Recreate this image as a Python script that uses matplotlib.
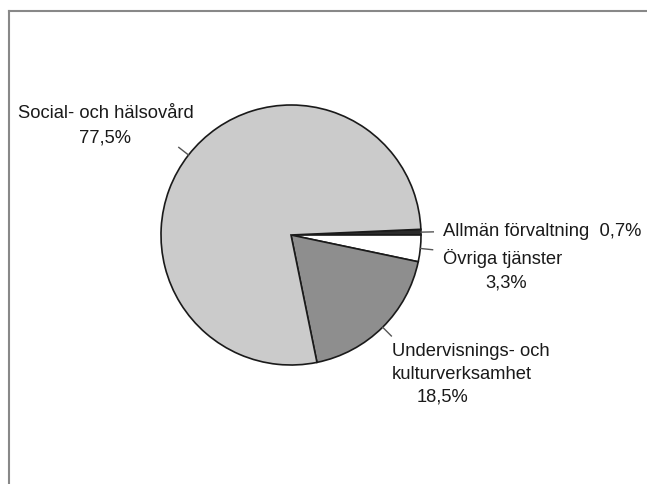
import matplotlib
matplotlib.use("Agg")
import matplotlib.pyplot as plt
from matplotlib.lines import Line2D
import numpy as np

categories = ["Allmän förvaltning", "Övriga tjänster", "Undervisnings- och\nkulturverksamhet", "Social- och hälsovård"]
values = [0.7, 3.3, 18.5, 77.5]
value_labels = ["0,7%", "3,3%", "18,5%", "77,5%"]
colors = ["#2b2b2b", "#ffffff", "#8e8e8e", "#cbcbcb"]

plt.rcParams['font.family'] = ['Liberation Sans', 'DejaVu Sans']

W, H = 647, 485
fig = plt.figure(figsize=(W/100, H/100), dpi=100)

cx, cy, r = 291, 236, 130
ax = fig.add_axes([(cx - r)/W, (H - cy - r)/H, 2*r/W, 2*r/H])
wedges, _ = ax.pie(values, colors=colors, startangle=360*values[0]/100, counterclock=False,
                   wedgeprops=dict(edgecolor="#1a1a1a", linewidth=1.2))
ax.set_xlim(-1, 1)
ax.set_ylim(-1, 1)
ax.set_aspect('equal')
ax.axis('off')

# leader lines radially from wedge midpoints
for w in wedges:
    mid = np.deg2rad((w.theta1 + w.theta2) / 2)
    ax.add_line(Line2D([np.cos(mid), 1.095*np.cos(mid)], [np.sin(mid), 1.095*np.sin(mid)],
                       color="#555555", lw=1.0, clip_on=False))

def px(x, y):
    return ((x - cx)/r, (cy - y)/r)

fs = 13.2
c = "#1a1a1a"
ax.text(*px(443, 231), categories[0] + "  " + value_labels[0], ha='left', va='center', fontsize=fs, color=c, clip_on=False)
ax.text(*px(443, 259), categories[1], ha='left', va='center', fontsize=fs, color=c, clip_on=False)
ax.text(*px(506, 283), value_labels[1], ha='center', va='center', fontsize=fs, color=c, clip_on=False)
ax.text(*px(392, 363), categories[2], ha='left', va='center', fontsize=fs, color=c, clip_on=False, linespacing=1.4)
ax.text(*px(443, 397), value_labels[2], ha='center', va='center', fontsize=fs, color=c, clip_on=False)
ax.text(*px(106, 113), categories[3], ha='center', va='center', fontsize=fs, color=c, clip_on=False)
ax.text(*px(105, 138), value_labels[3], ha='center', va='center', fontsize=fs, color=c, clip_on=False)

# partial frame (left and top)
fig.add_artist(Line2D([8.5/W, 8.5/W], [0, 1 - 12/H], color="#888888", lw=1.5, transform=fig.transFigure))
fig.add_artist(Line2D([8.5/W, 1], [1 - 12/H, 1 - 12/H], color="#888888", lw=1.5, transform=fig.transFigure))

fig.savefig("out.png", dpi=100)
